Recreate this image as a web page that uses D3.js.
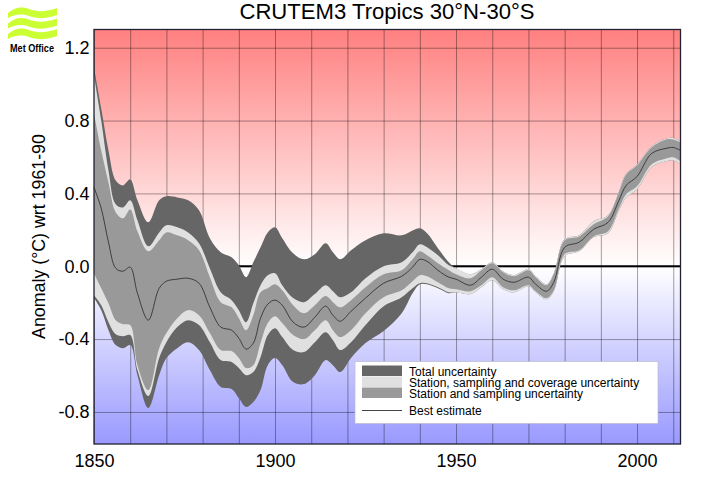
<!DOCTYPE html>
<html>
<head>
<meta charset="utf-8">
<script src="https://cdn.jsdelivr.net/npm/d3@7"></script>
<style>
  body { margin: 0; background: #fff; }
  text { font-family: "Liberation Sans", Arial, sans-serif; }
</style>
</head>
<body>
<div id="chart"></div>
<script>
const years = [1850,1852,1854,1856,1858,1860,1862,1865,1868,1870,1873,1876,1879,1882,1885,1888,1890,1892,1894,1896,1898,1900,1902,1905,1908,1911,1914,1916,1918,1921,1925,1930,1935,1938,1940,1942,1945,1948,1950,1954,1957,1960,1963,1966,1970,1972,1975,1977,1980,1984,1988,1992,1995,1997,2000,2004,2008,2010,2012];

const totalUpper = [1.091,0.866,0.636,0.471,0.444,0.477,0.362,0.241,0.362,0.384,0.378,0.362,0.307,0.154,0.077,0.049,0.005,-0.060,0.022,0.104,0.186,0.214,0.154,0.071,0.038,0.066,0.126,0.077,0.038,0.088,0.143,0.181,0.170,0.197,0.208,0.181,0.099,0.022,-0.011,-0.044,-0.016,0.022,-0.027,-0.049,-0.016,-0.055,-0.099,-0.038,0.148,0.170,0.247,0.280,0.411,0.510,0.559,0.658,0.702,0.704,0.685];
const coverageUpper = [1.047,0.800,0.526,0.340,0.323,0.362,0.252,0.110,0.186,0.225,0.214,0.186,0.126,-0.011,-0.143,-0.186,-0.241,-0.307,-0.203,-0.104,-0.049,-0.038,-0.104,-0.175,-0.197,-0.153,-0.104,-0.137,-0.170,-0.143,-0.066,0,0.022,0.077,0.121,0.104,0.060,0.005,-0.011,-0.044,-0.016,0.022,-0.027,-0.049,-0.016,-0.055,-0.099,-0.038,0.148,0.170,0.247,0.280,0.411,0.510,0.559,0.658,0.702,0.704,0.685];
const samplingUpper = [0.839,0.636,0.460,0.296,0.263,0.312,0.192,0.082,0.143,0.186,0.170,0.143,0.088,-0.060,-0.197,-0.225,-0.285,-0.351,-0.269,-0.143,-0.121,-0.099,-0.132,-0.214,-0.258,-0.214,-0.164,-0.197,-0.225,-0.186,-0.115,-0.044,-0.022,0.038,0.082,0.060,0.016,-0.022,-0.044,-0.066,-0.022,0.016,-0.033,-0.055,-0.022,-0.060,-0.104,-0.044,0.143,0.164,0.230,0.274,0.406,0.504,0.554,0.652,0.696,0.696,0.680];
const bestEstimate = [0.433,0.318,0.132,-0.011,-0.027,-0.005,-0.148,-0.296,-0.121,-0.082,-0.071,-0.066,-0.093,-0.225,-0.334,-0.351,-0.395,-0.455,-0.422,-0.285,-0.208,-0.186,-0.214,-0.307,-0.334,-0.280,-0.219,-0.269,-0.302,-0.247,-0.175,-0.093,-0.055,-0.005,0.038,0.027,-0.022,-0.060,-0.071,-0.104,-0.060,-0.016,-0.071,-0.088,-0.060,-0.099,-0.137,-0.088,0.104,0.132,0.203,0.241,0.362,0.444,0.493,0.619,0.647,0.652,0.636];
const samplingLower = [-0.038,-0.121,-0.203,-0.296,-0.318,-0.323,-0.543,-0.680,-0.450,-0.367,-0.285,-0.241,-0.269,-0.367,-0.460,-0.466,-0.504,-0.559,-0.543,-0.422,-0.312,-0.274,-0.312,-0.378,-0.400,-0.351,-0.296,-0.351,-0.389,-0.351,-0.258,-0.170,-0.132,-0.082,-0.049,-0.055,-0.088,-0.121,-0.126,-0.137,-0.104,-0.060,-0.115,-0.132,-0.104,-0.137,-0.175,-0.132,0.066,0.088,0.164,0.192,0.318,0.395,0.439,0.559,0.592,0.598,0.576];
const coverageLower = [-0.159,-0.214,-0.307,-0.373,-0.384,-0.378,-0.570,-0.713,-0.504,-0.417,-0.334,-0.296,-0.323,-0.417,-0.515,-0.526,-0.559,-0.598,-0.581,-0.499,-0.378,-0.340,-0.389,-0.460,-0.471,-0.417,-0.362,-0.406,-0.460,-0.417,-0.323,-0.219,-0.170,-0.121,-0.093,-0.093,-0.115,-0.143,-0.143,-0.153,-0.115,-0.077,-0.126,-0.143,-0.110,-0.143,-0.181,-0.137,0.055,0.082,0.159,0.181,0.307,0.378,0.422,0.543,0.576,0.581,0.559];
const totalLower = [-0.175,-0.241,-0.351,-0.433,-0.450,-0.433,-0.598,-0.778,-0.598,-0.504,-0.450,-0.417,-0.460,-0.570,-0.663,-0.674,-0.724,-0.773,-0.746,-0.680,-0.543,-0.504,-0.543,-0.636,-0.647,-0.598,-0.515,-0.543,-0.581,-0.504,-0.422,-0.356,-0.258,-0.148,-0.099,-0.099,-0.121,-0.148,-0.143,-0.153,-0.115,-0.077,-0.126,-0.143,-0.110,-0.143,-0.181,-0.137,0.055,0.082,0.159,0.181,0.307,0.378,0.422,0.543,0.576,0.581,0.559];

const yTicks = [-0.8, -0.4, 0.0, 0.4, 0.8, 1.2];
const xTicks = d3.range(1850, 2011, 10);
const xLabels = [1850, 1900, 1950, 2000];
const legendLabels = ["Total uncertainty", "Station, sampling and coverage uncertainty", "Station and sampling uncertainty"];

const width = 708, height = 504;
const plotLeft = 94, plotRight = 680.5, plotTop = 29.5, plotBottom = 444;
const darkGrey = "#666666", lightGrey = "#e0e0e0", midGrey = "#999999";

const svg = d3.select("#chart").append("svg")
  .attr("width", width)
  .attr("height", height)
  .style("display", "block");

const x = d3.scaleLinear().domain([1850, 2012]).range([plotLeft, plotRight]);
const y = d3.scaleLinear().domain([-0.976, 1.3]).range([plotBottom, plotTop]);

/* background */
const grad = svg.append("defs").append("linearGradient")
  .attr("id", "bg")
  .attr("gradientUnits", "userSpaceOnUse")
  .attr("x1", 0).attr("x2", 0)
  .attr("y1", plotTop).attr("y2", plotBottom);
[[0, "#ff8080"], [(y(0) - plotTop) / (plotBottom - plotTop), "#ffffff"], [1, "#9999ff"]].forEach(s => {
  grad.append("stop").attr("offset", s[0]).attr("stop-color", s[1]);
});
svg.append("rect")
  .attr("x", plotLeft).attr("y", plotTop)
  .attr("width", plotRight - plotLeft).attr("height", plotBottom - plotTop)
  .attr("fill", "url(#bg)");

/* axes, the tick lines are the grid */
const xAxis = d3.axisBottom(x)
  .tickValues(xTicks)
  .tickSize(-(plotBottom - plotTop))
  .tickPadding(10)
  .tickFormat(d => xLabels.includes(d) ? d : "");
const yAxis = d3.axisLeft(y)
  .tickValues(yTicks)
  .tickSize(-(plotRight - plotLeft))
  .tickPadding(4.5)
  .tickFormat(d => d.toFixed(1));

function styleAxis(g) {
  g.select(".domain").remove();
  g.selectAll("line").attr("stroke", "#000").attr("stroke-opacity", 0.36).attr("stroke-width", 1);
  g.selectAll("text").attr("fill", "#000").style("font-size", "18px").style("font-family", '"Liberation Sans", Arial, sans-serif');
}
svg.append("g").attr("transform", `translate(0,${plotBottom})`).call(xAxis).call(styleAxis);
svg.append("g").attr("transform", `translate(${plotLeft},0)`).call(yAxis).call(styleAxis);

/* zero line */
svg.append("line")
  .attr("x1", plotLeft).attr("x2", plotRight)
  .attr("y1", y(0)).attr("y2", y(0))
  .attr("stroke", "#000").attr("stroke-width", 2);

/* bands */
const rows = years.map((d, i) => ({ year: d, tu: totalUpper[i], cu: coverageUpper[i], su: samplingUpper[i], b: bestEstimate[i], sl: samplingLower[i], cl: coverageLower[i], tl: totalLower[i] }));
const curve = d3.curveCatmullRom.alpha(0.5);
const band = (hi, lo) => d3.area()
  .x(d => x(d.year))
  .y0(d => y(d[lo]))
  .y1(d => y(d[hi]))
  .curve(curve);

svg.append("path").attr("d", band("tu", "tl")(rows)).attr("fill", darkGrey);
svg.append("path").attr("d", band("cu", "cl")(rows)).attr("fill", lightGrey);
svg.append("path").attr("d", band("su", "sl")(rows)).attr("fill", midGrey);
svg.append("path")
  .attr("d", d3.line().x(d => x(d.year)).y(d => y(d.b)).curve(curve)(rows))
  .attr("fill", "none")
  .attr("stroke", "#333333")
  .attr("stroke-width", 0.9);

/* frame */
svg.append("rect")
  .attr("x", plotLeft).attr("y", plotTop)
  .attr("width", plotRight - plotLeft).attr("height", plotBottom - plotTop)
  .attr("fill", "none")
  .attr("stroke", "#222233")
  .attr("stroke-width", 1.3);

/* legend */
const legend = svg.append("g");
legend.append("rect")
  .attr("x", 355).attr("y", 361.5)
  .attr("width", 303).attr("height", 62)
  .attr("fill", "#fff")
  .attr("stroke", "#bbbbcc")
  .attr("stroke-width", 0.7);
[darkGrey, lightGrey, midGrey].forEach((c, i) => {
  legend.append("rect")
    .attr("x", 362).attr("y", 365.5 + i * 11)
    .attr("width", 40).attr("height", 10.5)
    .attr("fill", c);
  legend.append("text")
    .attr("x", 409).attr("y", 376 + i * 11)
    .attr("font-size", 12)
    .attr("fill", "#000")
    .text(legendLabels[i]);
});
legend.append("line")
  .attr("x1", 362).attr("x2", 402)
  .attr("y1", 410.5).attr("y2", 410.5)
  .attr("stroke", "#444")
  .attr("stroke-width", 1);
legend.append("text")
  .attr("x", 409).attr("y", 414.5)
  .attr("font-size", 12)
  .attr("fill", "#000")
  .text("Best estimate");

/* titles */
svg.append("text")
  .attr("x", 387).attr("y", 19)
  .attr("text-anchor", "middle")
  .attr("font-size", 22.1)
  .text("CRUTEM3 Tropics 30°N-30°S");
svg.append("text")
  .attr("transform", "translate(45,236.5) rotate(-90)")
  .attr("text-anchor", "middle")
  .attr("font-size", 17.8)
  .text("Anomaly (°C) wrt 1961-90");

/* logo */
const logo = svg.append("g");
[9, 19.5, 30].forEach(b => {
  logo.append("path")
    .attr("d", `M8,${b + 4} C14,${b - 1} 20,${b - 3} 29,${b} C37,${b + 3} 46,${b + 3} 57,${b - 1} L57,${b + 6} C46,${b + 10} 37,${b + 10} 29,${b + 7} C20,${b + 4} 14,${b + 6} 8,${b + 9} Z`)
    .attr("fill", "#ccff33");
});
logo.append("text")
  .attr("x", 32).attr("y", 51.5)
  .attr("text-anchor", "middle")
  .attr("font-size", 11)
  .attr("font-weight", "bold")
  .attr("textLength", 44)
  .attr("lengthAdjust", "spacingAndGlyphs")
  .text("Met Office");
</script>
</body>
</html>
